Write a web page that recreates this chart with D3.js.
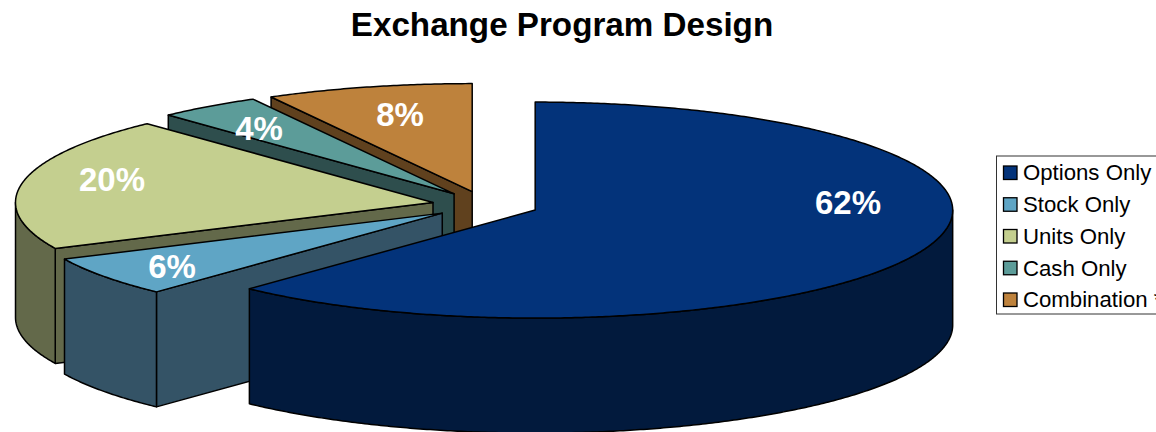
<!DOCTYPE html>
<html>
<head>
<meta charset="utf-8">
<script src="https://cdn.jsdelivr.net/npm/d3@7"></script>
<style>
  html, body { margin: 0; padding: 0; background: #fff; overflow: hidden; }
  svg { display: block; }
  text { font-family: "Liberation Sans", Arial, sans-serif; }
</style>
</head>
<body>
<svg id="chart" width="1156" height="432"></svg>
<script>
const chartTitle = "Exchange Program Design";
const categories = ["Options Only", "Stock Only", "Units Only", "Cash Only", "Combination *"];
const shares = [62, 6, 20, 4, 8];
const topColors = ["#03337a", "#5fa5c5", "#c4cf8f", "#5c9c99", "#be823c"];
const wallColors = ["#021a3d", "#345366", "#63694a", "#2e4e4d", "#60411e"];
const labelSpots = [[848, 202], [172, 266], [112, 179], [259, 128], [400, 114]];

const svg = d3.select("#chart");

const centerX = 485.5, centerY = 205;
const radiusX = 417.5, radiusY = 108;
const depth = 115;
const explode = 0.128;

// Unit circle coordinates projected onto the tilted ellipse.
const scaleX = d3.scaleLinear().domain([-1, 1]).range([centerX - radiusX, centerX + radiusX]);
const scaleY = d3.scaleLinear().domain([-1, 1]).range([centerY - radiusY, centerY + radiusY]);

const pie = d3.pie().sort(null).value(d => d);
const arcs = pie(shares);

const line = d3.line().x(p => p[0]).y(p => p[1]);

function rimPoints(a0, a1, ox, oy, drop) {
  const n = Math.max(2, Math.ceil((a1 - a0) * 120));
  return d3.range(n + 1).map(i => {
    const a = a0 + (a1 - a0) * i / n;
    return [scaleX(Math.sin(a)) + ox, scaleY(-Math.cos(a)) + oy + drop];
  });
}

arcs.map((arc, i) => ({ arc, i })).reverse().forEach(({ arc, i }) => {
  const mid = (arc.startAngle + arc.endAngle) / 2;
  const ox = scaleX(Math.sin(mid) * explode) - centerX;
  const oy = scaleY(-Math.cos(mid) * explode) - centerY;
  const apex = [centerX + ox, centerY + oy];
  const a0 = arc.startAngle, a1 = arc.endAngle;
  const g = svg.append("g").attr("class", "slice");
  const edge = { stroke: "#000", "stroke-width": 1.5, "stroke-linejoin": "round" };

  function wall(points) {
    const p = g.append("path").attr("d", line(points) + "Z").attr("fill", wallColors[i]);
    Object.entries(edge).forEach(([k, v]) => p.attr(k, v));
  }

  // Cut faces that turn toward the viewer.
  if (Math.sin(a0) < 0) {
    const rim = rimPoints(a0, a0, ox, oy, 0)[0];
    wall([apex, rim, [rim[0], rim[1] + depth], [apex[0], apex[1] + depth]]);
  }
  if (Math.sin(a1) > 1e-6) {
    const rim = rimPoints(a1, a1, ox, oy, 0)[0];
    wall([apex, rim, [rim[0], rim[1] + depth], [apex[0], apex[1] + depth]]);
  }

  // Outer wall over the part of the rim that faces front.
  const f0 = Math.max(a0, Math.PI / 2), f1 = Math.min(a1, Math.PI * 1.5);
  if (f1 > f0) {
    wall(rimPoints(f0, f1, ox, oy, 0).concat(rimPoints(f0, f1, ox, oy, depth).reverse()));
  }

  // Top surface.
  const top = g.append("path")
    .attr("d", line([apex].concat(rimPoints(a0, a1, ox, oy, 0))) + "Z")
    .attr("fill", topColors[i]);
  Object.entries(edge).forEach(([k, v]) => top.attr(k, v));
});

// Percentage labels.
svg.append("g").selectAll("text").data(shares).join("text")
  .attr("x", (d, i) => labelSpots[i][0])
  .attr("y", (d, i) => labelSpots[i][1])
  .attr("dy", "0.35em")
  .attr("text-anchor", "middle")
  .attr("font-size", 33)
  .attr("font-weight", "bold")
  .attr("fill", "#fff")
  .text(d => d + "%");

// Title.
svg.append("text")
  .attr("x", 562).attr("y", 36)
  .attr("text-anchor", "middle")
  .attr("font-size", 33.2)
  .attr("font-weight", "bold")
  .attr("fill", "#000")
  .text(chartTitle);

// Legend, running past the right edge of the page.
const legendY = d3.scalePoint().domain(categories).range([172.5, 299.5]);
svg.append("rect")
  .attr("x", 996.5).attr("y", 156).attr("width", 240).attr("height", 158)
  .attr("fill", "#fff").attr("stroke", "#333").attr("stroke-width", 1);
const rows = svg.append("g").selectAll("g").data(categories).join("g")
  .attr("transform", d => `translate(0,${legendY(d)})`);
rows.append("rect")
  .attr("x", 1003.5).attr("y", -6.5).attr("width", 13.5).attr("height", 13.5)
  .attr("fill", (d, i) => topColors[i]).attr("stroke", "#000").attr("stroke-width", 1.3);
rows.append("text")
  .attr("x", 1023).attr("dy", "0.35em")
  .attr("font-size", 22.2).attr("fill", "#000")
  .text(d => d);
</script>
</body>
</html>
